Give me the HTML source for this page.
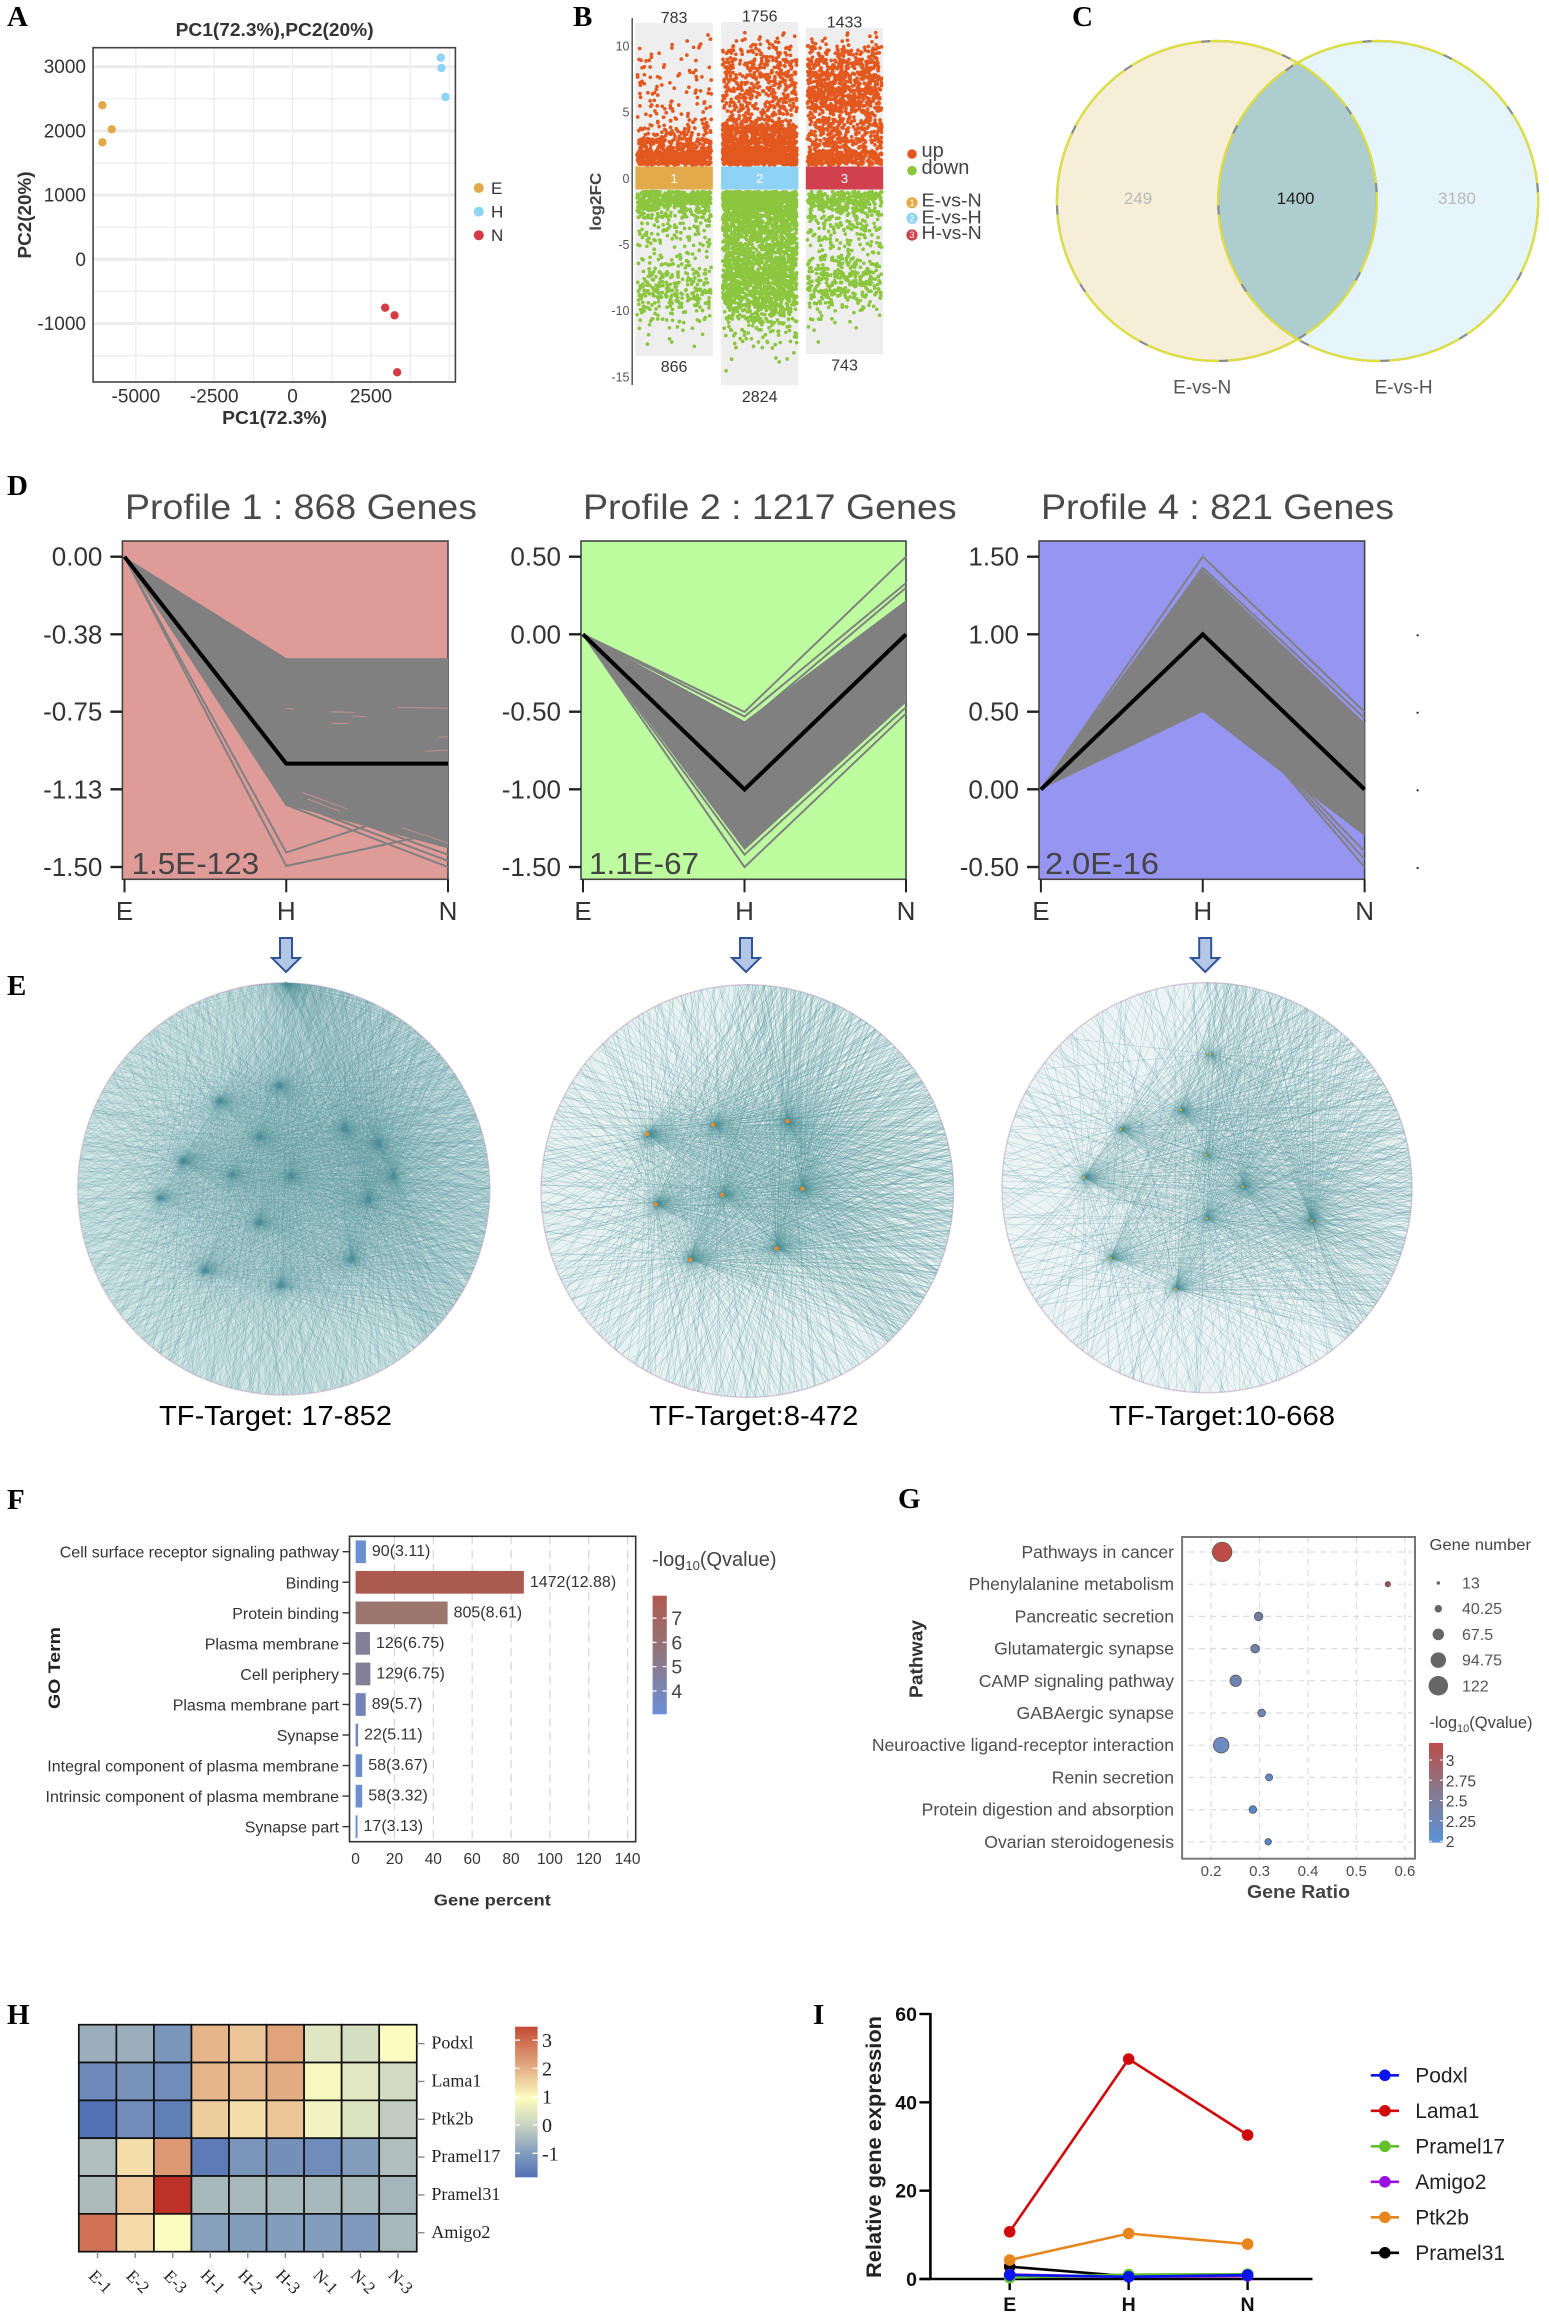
<!DOCTYPE html>
<html lang="en">
<head>
<meta charset="utf-8">
<title>Multi-panel transcriptome figure</title>
<style>
html,body{margin:0;padding:0;background:#fff}
svg{display:block}
text{font-family:"Liberation Sans",Arial,sans-serif}
.serif{font-family:"Liberation Serif","Times New Roman",serif}
.letter{font-family:"Liberation Serif","Times New Roman",serif;font-weight:bold;font-size:29px;fill:#000}
</style>
</head>
<body>
<svg id="figure" xmlns="http://www.w3.org/2000/svg" width="1549" height="2316" viewBox="0 0 1549 2316">
<defs>
<linearGradient id="fBar" x1="0" y1="0" x2="0" y2="1"><stop offset="0" stop-color="#ae5a50"/><stop offset=".45" stop-color="#937478"/><stop offset="1" stop-color="#6a90d8"/></linearGradient>
<linearGradient id="gBar" x1="0" y1="0" x2="0" y2="1"><stop offset="0" stop-color="#bd4c47"/><stop offset=".5" stop-color="#857a90"/><stop offset="1" stop-color="#5a92d8"/></linearGradient>
<linearGradient id="hBar" x1="0" y1="0" x2="0" y2="1"><stop offset="0" stop-color="#c44a36"/><stop offset=".27" stop-color="#e3ad84"/><stop offset=".47" stop-color="#fdfcc0"/><stop offset=".65" stop-color="#cbd5c2"/><stop offset=".85" stop-color="#7e99bc"/><stop offset="1" stop-color="#5272b5"/></linearGradient>
<radialGradient id="hubGlow"><stop offset="0" stop-color="#2f7f8c" stop-opacity=".5"/><stop offset=".35" stop-color="#3f8a93" stop-opacity=".16"/><stop offset="1" stop-color="#4e9196" stop-opacity="0"/></radialGradient>
</defs>
<rect width="1549" height="2316" fill="#fff"/>

<text class="letter" x="7" y="26">A</text>
<text class="letter" x="573" y="26">B</text>
<text class="letter" x="1072" y="26">C</text>
<text class="letter" x="7" y="495">D</text>
<text class="letter" x="7" y="995">E</text>
<text class="letter" x="7" y="1509">F</text>
<text class="letter" x="898" y="1508">G</text>
<text class="letter" x="7" y="2024">H</text>
<text class="letter" x="813" y="2024">I</text>

<g id="panelA">
<text x="274.6" y="36" font-size="18" font-weight="bold" fill="#333" text-anchor="middle" textLength="198" lengthAdjust="spacingAndGlyphs">PC1(72.3%),PC2(20%)</text>
<text x="274.6" y="424" font-size="18" font-weight="bold" fill="#333" text-anchor="middle" textLength="105" lengthAdjust="spacingAndGlyphs">PC1(72.3%)</text>
<text transform="translate(31 215) rotate(-90)" font-size="18" font-weight="bold" fill="#333" text-anchor="middle" textLength="87" lengthAdjust="spacingAndGlyphs">PC2(20%)</text>
</g>

<g id="panelB">
<text transform="translate(601 201.7) rotate(-90)" font-size="16" font-weight="bold" fill="#444" text-anchor="middle" textLength="58" lengthAdjust="spacingAndGlyphs">log2FC</text>
</g>

<g id="panelC">
<circle cx="1216.9" cy="201" r="160" fill="#f6eed7"/>
<circle cx="1378.2" cy="201" r="160" fill="#e5f5fb"/>
<path d="M1297.55 62.8A160 160 0 0 1 1297.55 339.2A160 160 0 0 1 1297.55 62.8Z" fill="#adcdce"/>
<g fill="none" stroke-width="2.2">
<circle cx="1216.9" cy="201" r="160" stroke="#8a8a8a"/>
<circle cx="1378.2" cy="201" r="160" stroke="#8a8a8a"/>
<circle cx="1216.9" cy="201" r="160" stroke="#dfe03c" stroke-dasharray="74 9"/>
<circle cx="1378.2" cy="201" r="160" stroke="#dfe03c" stroke-dasharray="74 9"/>
</g>
<text x="1138" y="204" font-size="17" fill="#b9b9b9" text-anchor="middle">249</text>
<text x="1295.6" y="204" font-size="17" fill="#222" text-anchor="middle">1400</text>
<text x="1456.9" y="204" font-size="17" fill="#b9b9b9" text-anchor="middle">3180</text>
<text x="1202.2" y="393.3" font-size="19" fill="#555" text-anchor="middle">E-vs-N</text>
<text x="1403.6" y="393.3" font-size="19" fill="#555" text-anchor="middle">E-vs-H</text>
</g>

<g id="panelD"></g>
<g id="panelE">
<text x="275.5" y="1425" font-size="28" fill="#000" text-anchor="middle" textLength="233" lengthAdjust="spacingAndGlyphs">TF-Target: 17-852</text>
<text x="753.8" y="1425" font-size="28" fill="#000" text-anchor="middle" textLength="209" lengthAdjust="spacingAndGlyphs">TF-Target:8-472</text>
<text x="1222" y="1425" font-size="28" fill="#000" text-anchor="middle" textLength="226" lengthAdjust="spacingAndGlyphs">TF-Target:10-668</text>
</g>

<g id="panelF">
<text transform="translate(60 1668) rotate(-90)" font-size="17" font-weight="bold" fill="#222" text-anchor="middle" textLength="82" lengthAdjust="spacingAndGlyphs">GO Term</text>
<text x="492.3" y="1905.5" font-size="16" font-weight="bold" fill="#333" text-anchor="middle" textLength="117" lengthAdjust="spacingAndGlyphs">Gene percent</text>
<text x="652" y="1566" font-size="20" fill="#444">-log<tspan font-size="13" dy="4">10</tspan><tspan dy="-4">(Qvalue)</tspan></text>
<rect x="652.6" y="1595.7" width="14.2" height="118.6" fill="url(#fBar)"/>
</g>

<g id="panelG">
<text transform="translate(922.5 1659) rotate(-90)" font-size="18" font-weight="bold" fill="#333" text-anchor="middle" textLength="78" lengthAdjust="spacingAndGlyphs">Pathway</text>
<text x="1298.5" y="1898" font-size="18" font-weight="bold" fill="#444" text-anchor="middle" textLength="103" lengthAdjust="spacingAndGlyphs">Gene Ratio</text>
<text x="1429.5" y="1550" font-size="15.5" fill="#444" textLength="101.5" lengthAdjust="spacingAndGlyphs">Gene number</text>
<text x="1429.5" y="1728" font-size="16.5" fill="#444">-log<tspan font-size="11" dy="4">10</tspan><tspan dy="-4">(Qvalue)</tspan></text>
<rect x="1429" y="1743" width="14" height="99.6" fill="url(#gBar)"/>
</g>

<g id="panelH">
<rect x="515.1" y="2026.7" width="22.5" height="150.6" fill="url(#hBar)"/>
</g>

<g id="panelI">
<text transform="translate(881 2147) rotate(-90)" font-size="21" font-weight="bold" fill="#222" text-anchor="middle" textLength="262" lengthAdjust="spacingAndGlyphs">Relative gene expression</text>
</g>
</svg>

<script>
/* ---------- Panel A data ---------- */
const pcaXTicks = [-5000, -2500, 0, 2500];
const pcaYTicks = [3000, 2000, 1000, 0, -1000];
const pcaGroups = ['E', 'H', 'N'];
const pcaPC1E = [-6067, -5770, -6067];
const pcaPC2E = [2400, 2025, 1822];
const pcaPC1H = [4727, 4750, 4876];
const pcaPC2H = [3140, 2980, 2528];
const pcaPC1N = [2953, 3252, 3336];
const pcaPC2N = [-754, -872, -1760];

/* ---------- Panel B data: dots per 1-log2FC bin, starting at |log2FC| = 1 ---------- */
const volcanoYTicks = [10, 5, 0, -5, -10, -15];
const volcanoUpCounts = [783, 1756, 1433];
const volcanoDownCounts = [866, 2824, 743];
const upBinsCol1 = [440, 170, 60, 28, 22, 18, 20, 14, 10, 5];
const upBinsCol2 = [560, 420, 280, 90, 80, 90, 100, 85, 50, 18];
const upBinsCol3 = [300, 130, 100, 100, 160, 210, 180, 140, 75, 16];
const downBinsCol1 = [340, 130, 40, 35, 22, 28, 65, 95, 55, 28, 8, 4];
const downBinsCol2 = [600, 400, 260, 200, 210, 250, 280, 240, 160, 85, 38, 16, 5, 1];
const downBinsCol3 = [220, 95, 55, 35, 32, 65, 105, 90, 36, 12, 3, 1];

/* ---------- Panel D data ---------- */
const timeLabels = ['E', 'H', 'N'];
const profile1Ticks = ['0.00', '-0.38', '-0.75', '-1.13', '-1.50'];
const profile1Mean = [0, -1, -1];
const profile1Upper = [0, -0.49, -0.49];
const profile1Lower = [0, -1.2, -1.41];
const profile1Outliers = [[0, -1.43, -1.17], [0, -1.495, -1.325], [0, -1.2, -1.5], [0, -1.18, -1.47], [0, -1.16, -1.44]];
const profile2Ticks = ['0.50', '0.00', '-0.50', '-1.00', '-1.50'];
const profile2Mean = [0, -1, 0];
const profile2Upper = [0, -0.56, 0.22];
const profile2Lower = [0, -1.39, -0.44];
const profile2Outliers = [[0, -0.5, 0.5], [0, -0.53, 0.33], [0, -0.58, 0.3], [0, -1.5, -0.51], [0, -1.42, -0.47]];
const profile4Ticks = ['1.50', '1.00', '0.50', '0.00', '-0.50'];
const profile4Mean = [0, 1, 0];
const profile4Upper = [0, 1.4, 0.43];
const profile4Lower = [0, 0.5, -0.3];
const profile4Outliers = [[0, 1.5, 0.5], [0, 1.43, 0.46], [0, 1.41, 0.42], [0, 0.72, -0.5], [0, 0.7, -0.45], [0, 0.68, -0.4]];
/* Background slivers showing through profile 1's grey band: [time start, value start, time end, value end] */
const profile1Slivers = [[1, -0.733, 1.05, -0.737], [1.28, -0.75, 1.42, -0.752], [1.41, -0.77, 1.49, -0.772], [1.28, -0.805, 1.38, -0.807], [1.69, -0.728, 2, -0.733], [1.94, -0.873, 2, -0.87], [1.86, -0.94, 2, -0.935], [1.1, -1.14, 1.38, -1.22], [1.13, -1.17, 1.33, -1.23], [1.72, -1.31, 2, -1.385]];

/* ---------- Panel E data: hub placement in unit-disc terms, and edge counts ---------- */
const net1HubU = [0.01, -0.027, -0.318, -0.124, 0.297, 0.459, -0.496, -0.258, 0.03, 0.535, -0.609, 0.41, -0.124, 0.329, -0.391, -0.019];
const net1HubV = [-1, -0.505, -0.429, -0.254, -0.294, -0.222, -0.136, -0.068, -0.06, -0.06, 0.045, 0.053, 0.167, 0.345, 0.401, 0.474];
const net1Edges = [210, 175, 175, 160, 190, 190, 190, 125, 160, 160, 130, 175, 175, 175, 175, 175];
const net2HubU = [-0.485, -0.165, 0.195, 0.267, -0.121, -0.444, 0.142, -0.276];
const net2HubV = [-0.276, -0.321, -0.339, -0.011, 0.019, 0.065, 0.279, 0.333];
const net2Edges = [150, 130, 175, 170, 130, 140, 160, 160];
const net3HubU = [0.015, -0.128, -0.421, -0.6, -0.005, 0.174, -0.002, 0.511, -0.47, -0.153];
const net3HubV = [-0.652, -0.379, -0.285, -0.05, -0.159, -0.005, 0.15, 0.161, 0.345, 0.494];
const net3Edges = [50, 120, 90, 120, 60, 130, 100, 190, 100, 110];

/* ---------- Panel F data ---------- */
const goTerms = ['Cell surface receptor signaling pathway', 'Binding', 'Protein binding', 'Plasma membrane', 'Cell periphery', 'Plasma membrane part', 'Synapse', 'Integral component of plasma membrane', 'Intrinsic component of plasma membrane', 'Synapse part'];
const goPercent = [5.3, 86.6, 47.35, 7.4, 7.6, 5.2, 1.3, 3.4, 3.4, 1];
const goGenes = [90, 1472, 805, 126, 129, 89, 22, 58, 58, 17];
const goQ = [3.11, 12.88, 8.61, 6.75, 6.75, 5.7, 5.11, 3.67, 3.32, 3.13];
const goXTicks = [0, 20, 40, 60, 80, 100, 120, 140];
const goColorTicks = [7, 6, 5, 4];

/* ---------- Panel G data ---------- */
const pathwayNames = ['Pathways in cancer', 'Phenylalanine metabolism', 'Pancreatic secretion', 'Glutamatergic synapse', 'CAMP signaling pathway', 'GABAergic synapse', 'Neuroactive ligand-receptor interaction', 'Renin secretion', 'Protein digestion and absorption', 'Ovarian steroidogenesis'];
const pathwayRatio = [0.2228, 0.5647, 0.298, 0.2908, 0.2507, 0.3043, 0.2208, 0.3197, 0.2862, 0.3178];
const pathwayGenes = [122, 25, 48, 48, 67, 41, 95, 37, 41, 34];
const pathwayQ = [3.2, 2.85, 2.45, 2.4, 2.35, 2.3, 2.25, 2.15, 2.05, 2.02];
const ratioTicks = [0.2, 0.3, 0.4, 0.5, 0.6];
const sizeLegend = [13, 40.25, 67.5, 94.75, 122];
const pathwayColorTicks = ['3', '2.75', '2.5', '2.25', '2'];

/* ---------- Panel H data ---------- */
const heatGenes = ['Podxl', 'Lama1', 'Ptk2b', 'Pramel17', 'Pramel31', 'Amigo2'];
const heatSamples = ['E-1', 'E-2', 'E-3', 'H-1', 'H-2', 'H-3', 'N-1', 'N-2', 'N-3'];
const heatPodxl = [-0.7, -0.7, -1.05, 1.9, 1.7, 2.1, 0.25, 0.1, 1];
const heatLama1 = [-1.25, -1.1, -1.2, 1.9, 1.85, 2, 0.8, 0.3, 0.05];
const heatPtk2b = [-1.6, -1.2, -1.4, 1.6, 1.4, 1.7, 0.6, 0.2, -0.2];
const heatPramel17 = [-0.45, 1.4, 2.2, -1.45, -1.05, -1.15, -1.2, -0.95, -0.45];
const heatPramel31 = [-0.5, 1.65, 3.3, -0.55, -0.55, -0.55, -0.55, -0.55, -0.6];
const heatAmigo2 = [2.6, 1.45, 1, -0.9, -0.95, -0.95, -0.95, -1, -0.55];
const heatColorTicks = [3, 2, 1, 0, -1];

/* ---------- Panel I data ---------- */
const qpcrGroups = ['E', 'H', 'N'];
const qpcrTicks = [60, 40, 20, 0];
const qpcrLegend = ['Podxl', 'Lama1', 'Pramel17', 'Amigo2', 'Ptk2b', 'Pramel31'];
const qpcrPodxl = [0.9, 0.5, 0.9];
const qpcrLama1 = [10.7, 49.8, 32.6];
const qpcrPramel17 = [0.3, 1, 1.1];
const qpcrAmigo2 = [1, 0.5, 0.7];
const qpcrPtk2b = [4.3, 10.3, 7.9];
const qpcrPramel31 = [2.8, 0.6, 1];

/* ---------- helpers ---------- */
const NS = 'http://www.w3.org/2000/svg';
function mk(tag, parent, attrs) {
  const e = document.createElementNS(NS, tag);
  for (const k in attrs) e.setAttribute(k, attrs[k]);
  parent.appendChild(e);
  return e;
}
function tx(parent, x, y, str, size, attrs) {
  const e = mk('text', parent, Object.assign({x: x, y: y, 'font-size': size}, attrs || {}));
  e.textContent = str;
  return e;
}
function hexRgb(h) { return [parseInt(h.substr(1, 2), 16), parseInt(h.substr(3, 2), 16), parseInt(h.substr(5, 2), 16)]; }
function ramp(vals, cols, v) {
  if (v <= vals[0]) return cols[0];
  for (let i = 1; i < vals.length; i++) {
    if (v <= vals[i]) {
      const t = (v - vals[i - 1]) / (vals[i] - vals[i - 1]);
      const a = hexRgb(cols[i - 1]), b = hexRgb(cols[i]);
      return 'rgb(' + a.map((c, j) => Math.round(c + (b[j] - c) * t)).join(',') + ')';
    }
  }
  return cols[cols.length - 1];
}
/* Deterministic layout jitter: only spreads marks inside a bin or fan, never sets a data value. */
function jitter(a, b) {
  const s = Math.sin(a * 12.9898 + b * 78.233) * 43758.5453;
  return s - Math.floor(s);
}

/* ---------- Panel A ---------- */
(function () {
  const g = document.getElementById('panelA');
  const x = v => 292.6 + v * 78.37 / 2500;
  const y = v => 259.3 - v * 64.2 / 1000;
  const L = 93.1, R = 455.4, T = 47.7, B = 382;
  for (let v = -5000; v <= 5000; v += 1250) {
    const l = mk('line', g, {x1: x(v), x2: x(v), y1: T, y2: B, stroke: '#ececec', 'stroke-width': 1.2});
    
    
  }
  for (let v = -1500; v <= 3000; v += 500) {
    const major = v % 1000 === 0;
    const l = mk('line', g, {x1: L, x2: R, y1: y(v), y2: y(v), stroke: '#ececec', 'stroke-width': major ? 3 : 1.2});
    
    
  }
  const box = mk('rect', g, {x: L, y: T, width: R - L, height: B - T, fill: 'none', stroke: '#444', 'stroke-width': 1.6});
  
  
  pcaXTicks.forEach(v => {
    const t = tx(g, x(v), 402.7, String(v), 19, {'text-anchor': 'middle', fill: '#333'});
    
    
  });
  pcaYTicks.forEach(v => {
    const t = tx(g, 86, y(v) + 6.5, String(v), 19, {'text-anchor': 'end', fill: '#333'});
    
    
  });
  const colors = ['#e2a948', '#8ed3f5', '#d63a45'];
  const xs = [pcaPC1E, pcaPC1H, pcaPC1N], ys = [pcaPC2E, pcaPC2H, pcaPC2N];
  xs.forEach((arr, k) => arr.forEach((v, i) => {
    const c = mk('circle', g, {cx: x(v), cy: y(ys[k][i]), r: 4.2, fill: colors[k]});
    
    
  }));
  pcaGroups.forEach((name, k) => {
    const ly = 188 + k * 23.6;
    const c = mk('circle', g, {cx: 478.8, cy: ly, r: 5, fill: colors[k]});
    
    
    const t = tx(g, 491, ly + 6, name, 17, {fill: '#333'});
    
    
  });
})();

/* ---------- Panel B ---------- */
(function () {
  const g = document.getElementById('panelB');
  const y = v => 178.3 - v * 13.24;
  const colL = [635.4, 721, 805.8], colW = 77.4;
  const colTop = [23, 22, 28], colBottom = [356, 385, 354];
  const bandColors = ['#e2aa4b', '#8ed3f5', '#d0404d'];
  const topLabelY = [23, 21.7, 27.7], bottomLabelY = [372, 402, 370.7];
  const ups = [upBinsCol1, upBinsCol2, upBinsCol3];
  const downs = [downBinsCol1, downBinsCol2, downBinsCol3];
  const axis = mk('line', g, {x1: 632.2, x2: 632.2, y1: 18, y2: 385, stroke: '#555', 'stroke-width': 1.5});
  
  
  volcanoYTicks.forEach(v => {
    const t = tx(g, 629.5, y(v) + 4.5, String(v), 12.5, {'text-anchor': 'end', fill: '#555'});
    
    
  });
  function dots(bins, sign, col) {
    let d = '';
    bins.forEach((n, b) => {
      for (let i = 0; i < n; i++) {
        const fx = jitter(i + 0.13 * col, b + 3.7 * sign);
        const fy = jitter(i + 7.31 + col, b + 11.9 * sign);
        const v = sign * (1 + b + fy);
        d += 'M' + (colL[col] + 1.5 + fx * (colW - 3)).toFixed(1) + ' ' + y(v).toFixed(1) + 'h0';
      }
    });
    return d;
  }
  colL.forEach((l, k) => {
    const bg = mk('rect', g, {x: l, y: colTop[k], width: colW, height: colBottom[k] - colTop[k], fill: '#eeeeee'});
    
    
    const up = mk('path', g, {d: dots(ups[k], 1, k), stroke: '#e2581f', 'stroke-width': 3.7, 'stroke-linecap': 'round', fill: 'none'});
    
    
    const down = mk('path', g, {d: dots(downs[k], -1, k), stroke: '#8cc63f', 'stroke-width': 3.7, 'stroke-linecap': 'round', fill: 'none'});
    
    
    const band = mk('rect', g, {x: l, y: 166.5, width: colW, height: 23, fill: bandColors[k]});
    
    
    const n = tx(g, l + colW / 2, 183, String(k + 1), 13, {'text-anchor': 'middle', fill: '#fff'});
    
    
    const tl = tx(g, l + colW / 2, topLabelY[k], String(volcanoUpCounts[k]), 16, {'text-anchor': 'middle', fill: '#333'});
    
    
    const bl = tx(g, l + colW / 2, bottomLabelY[k], String(volcanoDownCounts[k]), 16, {'text-anchor': 'middle', fill: '#333'});
    
    
  });
  const legendNames = ['up', 'down'], legendColors = ['#e2581f', '#8cc63f'], legendY = [154, 170.7], legendBase = [157, 174];
  legendNames.forEach((s, i) => {
    const c = mk('circle', g, {cx: 912, cy: legendY[i], r: 4.8, fill: legendColors[i]});
    
    
    const t = tx(g, 921.5, legendBase[i], s, 20, {fill: '#444'});
    
    
  });
  const compareNames = ['E-vs-N', 'E-vs-H', 'H-vs-N'], compareY = [202.7, 218.3, 235], compareBase = [206.7, 223.3, 239];
  compareNames.forEach((s, i) => {
    const c = mk('circle', g, {cx: 912, cy: compareY[i], r: 5.6, fill: bandColors[i]});
    
    
    const num = tx(g, 912, compareY[i] + 3.2, String(i + 1), 9, {'text-anchor': 'middle', fill: '#fff'});
    
    
    const t = tx(g, 921.5, compareBase[i], s, 18, {fill: '#444', textLength: 60.3, lengthAdjust: 'spacingAndGlyphs'});
    
    
  });
})();

/* ---------- Panel D ---------- */
(function () {
  const g = document.getElementById('panelD');
  const T = 541, B = 879.3, tickY = [556.7, 634.3, 711.7, 789.3, 867];
  function profile(o) {
    const x = i => o.xE + i * (o.xN - o.xE) / 2;
    const y = v => tickY[0] + (o.top - v) * o.pxPerUnit;
    const bg = mk('rect', g, {x: o.L, y: T, width: o.xN - o.L, height: B - T, fill: o.bg, stroke: '#444', 'stroke-width': 1.6});
    
    
    const pts = o.upper.map((v, i) => x(i) + ',' + y(v)).concat(o.lower.map((v, i) => x(i) + ',' + y(v)).reverse()).join(' ');
    const band = mk('polygon', g, {points: pts, fill: '#808080'});
    
    
    o.outliers.forEach(s => {
      const l = mk('polyline', g, {points: s.map((v, i) => x(i) + ',' + y(v)).join(' '), fill: 'none', stroke: '#808080', 'stroke-width': 2});
      
      
    });
    (o.slivers || []).forEach(s => {
      const l = mk('line', g, {x1: x(s[0]), y1: y(s[1]), x2: x(s[2]), y2: y(s[3]), stroke: o.bg, 'stroke-width': 0.9, 'stroke-opacity': 0.75});
      
      
    });
    const mean = mk('polyline', g, {points: o.mean.map((v, i) => x(i) + ',' + y(v)).join(' '), fill: 'none', stroke: '#000', 'stroke-width': 4});
    
    
    o.ticks.forEach((s, i) => {
      const tm = mk('line', g, {x1: o.L - 12, x2: o.L, y1: tickY[i], y2: tickY[i], stroke: '#222', 'stroke-width': 2.4});
      
      
      const t = tx(g, o.L - 20, tickY[i] + 9, s, 26, {'text-anchor': 'end', fill: '#333'});
      
      
    });
    timeLabels.forEach((s, i) => {
      const tm = mk('line', g, {x1: x(i), x2: x(i), y1: B, y2: B + 13, stroke: '#222', 'stroke-width': 2});
      
      
      const t = tx(g, x(i), 920, s, 26, {'text-anchor': 'middle', fill: '#333'});
      
      
    });
    const title = tx(g, o.titleX, 519, o.title, 35, {fill: '#4a4a4a', textLength: o.titleW, lengthAdjust: 'spacingAndGlyphs'});
    
    
    const p = tx(g, o.pX, 874, o.p, 31, {fill: '#444', textLength: o.pW, lengthAdjust: 'spacingAndGlyphs'});
    
    
    const a = o.arrowX;
    const arrow = mk('path', g, {d: 'M' + (a - 6) + ' 938H' + (a + 6) + 'V958H' + (a + 14) + 'L' + a + ' 972L' + (a - 14) + ' 958H' + (a - 6) + 'Z', fill: '#b4c7e7', stroke: '#2f5597', 'stroke-width': 2});
    
    
  }
  profile({L: 122.4, xE: 124.5, xN: 448, top: 0, pxPerUnit: 206.9, bg: '#de9b98', upper: profile1Upper, lower: profile1Lower, outliers: profile1Outliers, slivers: profile1Slivers, mean: profile1Mean, ticks: profile1Ticks, title: 'Profile 1 : 868 Genes', titleX: 125, titleW: 352, p: '1.5E-123', pX: 131.6, pW: 127.5, arrowX: 286});
  profile({L: 581, xE: 583, xN: 906, top: 0.5, pxPerUnit: 155.2, bg: '#bdfd9f', upper: profile2Upper, lower: profile2Lower, outliers: profile2Outliers, mean: profile2Mean, ticks: profile2Ticks, title: 'Profile 2 : 1217 Genes', titleX: 583, titleW: 373.6, p: '1.1E-67', pX: 589, pW: 110, arrowX: 746});
  profile({L: 1039, xE: 1040.9, xN: 1364.6, top: 1.5, pxPerUnit: 155.2, bg: '#9795f2', upper: profile4Upper, lower: profile4Lower, outliers: profile4Outliers, mean: profile4Mean, ticks: profile4Ticks, title: 'Profile 4 : 821 Genes', titleX: 1041, titleW: 353, p: '2.0E-16', pX: 1045, pW: 114, arrowX: 1205.2});
  tickY.slice(1).forEach(ty => {
    const c = mk('circle', g, {cx: 1417.6, cy: ty + 1, r: 1.1, fill: '#222'});
    
    
  });
})();

/* ---------- Panel E ---------- */
(function () {
  const g = document.getElementById('panelE');
  function network(cx, cy, R, hubU, hubV, edges, discFill, denseShare, hubColor, hubR, opacity, strokeW) {
    const disc = mk('circle', g, {cx: cx, cy: cy, r: R, fill: discFill, stroke: '#d8c8da', 'stroke-width': 1.4});
    
    
    hubU.forEach((u, i) => {
      const hx = cx + u * R, hy = cy + hubV[i] * R;
      const dense = Math.round(edges[i] * denseShare), sparse = edges[i] - dense;
      let d = '';
      for (let j = 0; j < dense; j++) {
        const a = ((j + jitter(j, i)) / dense) * 2.4;
        d += 'M' + hx.toFixed(1) + ' ' + hy.toFixed(1) + 'L' + (cx + R * Math.sin(a)).toFixed(1) + ' ' + (cy - R * Math.cos(a)).toFixed(1);
      }
      for (let j = 0; j < sparse; j++) {
        const a = ((j + jitter(j + 5.5, i + 9)) / sparse) * 6.2832;
        d += 'M' + hx.toFixed(1) + ' ' + hy.toFixed(1) + 'L' + (cx + R * Math.sin(a)).toFixed(1) + ' ' + (cy - R * Math.cos(a)).toFixed(1);
      }
      const fan = mk('path', g, {d: d, fill: 'none', stroke: '#4e9196', 'stroke-width': strokeW, 'stroke-opacity': opacity});
      
      
    });
    hubU.forEach((u, i) => {
      if (u * u + hubV[i] * hubV[i] < 0.9) {
        const glow = mk('circle', g, {cx: cx + u * R, cy: cy + hubV[i] * R, r: 15, fill: 'url(#hubGlow)'});
        
        
      }
      const h = mk('circle', g, {cx: cx + u * R, cy: cy + hubV[i] * R, r: hubR, fill: hubColor});
      
      
    });
  }
  network(283.8, 1189, 206, net1HubU, net1HubV, net1Edges, '#d4e8e8', 0.3, '#5f8fa0', 1.2, 0.3, 0.42);
  network(747.3, 1191, 206.3, net2HubU, net2HubV, net2Edges, '#e8f2f2', 0.4, '#e88a2e', 2.2, 0.4, 0.5);
  network(1207, 1187.7, 205, net3HubU, net3HubV, net3Edges, '#ecf4f5', 0.5, '#d7a83a', 1.3, 0.36, 0.5);
})();

/* ---------- Panel F ---------- */
(function () {
  const g = document.getElementById('panelF');
  const x = v => 355.6 + v * 1.943;
  const y = i => 1551.7 + i * 30.55;
  const L = 349.5, R = 635.7, T = 1536.3, B = 1841.7;
  const qVals = [3.1, 5.7, 6.75, 8.61, 12.88];
  const qCols = ['#6a90d3', '#7283b9', '#847f98', '#9a766f', '#ab5a50'];
  goXTicks.forEach(v => {
    if (v > 0) {
      const l = mk('line', g, {x1: x(v), x2: x(v), y1: T, y2: B, stroke: '#d4d4d4', 'stroke-width': 1.2, 'stroke-dasharray': '8 6'});
      
      
    }
    const t = tx(g, x(v), 1864, String(v), 15.5, {'text-anchor': 'middle', fill: '#333'});
    
    
  });
  const frame = mk('rect', g, {x: L, y: T, width: R - L, height: B - T, fill: 'none', stroke: '#333', 'stroke-width': 1.6});
  
  
  goTerms.forEach((s, i) => {
    const bar = mk('rect', g, {x: x(0), y: y(i) - 11.3, width: x(goPercent[i]) - x(0), height: 22.7, fill: ramp(qVals, qCols, goQ[i])});
    
    
    const tick = mk('line', g, {x1: 342.5, x2: L, y1: y(i), y2: y(i), stroke: '#333', 'stroke-width': 1.4});
    
    
    const t = tx(g, 339, y(i) + 6, s, 16, {'text-anchor': 'end', fill: '#333'});
    
    
    const v = tx(g, x(goPercent[i]) + 6, y(i) + 4.5, goGenes[i] + '(' + goQ[i] + ')', 16, {fill: '#333'});
    
    
  });
  const cbar = v => 1666.7 + (5 - v) * 24.3;
  goColorTicks.forEach(v => {
    const m = mk('line', g, {x1: 652.6, x2: 666.8, y1: cbar(v), y2: cbar(v), stroke: '#fff', 'stroke-width': 1.2, 'stroke-dasharray': '4 6'});
    
    
    const t = tx(g, 671.4, cbar(v) + 7, String(v), 19.5, {fill: '#444'});
    
    
  });
})();

/* ---------- Panel G ---------- */
(function () {
  const g = document.getElementById('panelG');
  const x = v => 1211.1 + (v - 0.2) * 484.5;
  const y = i => 1552 + i * 32.2;
  const r = n => 1.75 + (n - 13) * 8 / 109;
  const L = 1182.1, R = 1415, T = 1537, B = 1858.7;
  const qVals = [2, 2.25, 2.5, 2.75, 3];
  const qCols = ['#4d88cc', '#6d8bc0', '#71789a', '#8f5552', '#bd4c47'];
  ratioTicks.forEach(v => {
    const l = mk('line', g, {x1: x(v), x2: x(v), y1: T, y2: B, stroke: '#dcdcdc', 'stroke-width': 1.2, 'stroke-dasharray': '6 5'});
    
    
    const t = tx(g, x(v), 1876, v.toFixed(1), 15, {'text-anchor': 'middle', fill: '#4d4d4d'});
    
    
  });
  pathwayNames.forEach((s, i) => {
    const l = mk('line', g, {x1: L + 6, x2: R - 3, y1: y(i), y2: y(i), stroke: '#dcdcdc', 'stroke-width': 1.2, 'stroke-dasharray': '6 5'});
    
    
    const t = tx(g, 1174, y(i) + 6, s, 17.6, {'text-anchor': 'end', fill: '#4d4d4d'});
    
    
    const c = mk('circle', g, {cx: x(pathwayRatio[i]), cy: y(i), r: r(pathwayGenes[i]), fill: ramp(qVals, qCols, pathwayQ[i]), stroke: '#555', 'stroke-width': 0.8});
    
    
  });
  const frame = mk('rect', g, {x: L, y: T, width: R - L, height: B - T, fill: 'none', stroke: '#777', 'stroke-width': 2});
  
  
  sizeLegend.forEach((n, i) => {
    const ly = 1583 + i * 25.7;
    const c = mk('circle', g, {cx: 1438.3, cy: ly, r: r(n), fill: '#666'});
    
    
    const t = tx(g, 1462, ly + 5.5, String(n), 16, {fill: '#555'});
    
    
  });
  pathwayColorTicks.forEach((s, i) => {
    const cy = 1760 + i * 20.3;
    const m = mk('line', g, {x1: 1429, x2: 1443, y1: cy, y2: cy, stroke: '#fff', 'stroke-width': 1, 'stroke-dasharray': '3 8'});
    
    
    const t = tx(g, 1445.8, cy + 6, s, 15.5, {fill: '#444'});
    
    
  });
})();

/* ---------- Panel H ---------- */
(function () {
  const g = document.getElementById('panelH');
  const rows = [heatPodxl, heatLama1, heatPtk2b, heatPramel17, heatPramel31, heatAmigo2];
  const vVals = [-1.6, -1, -0.5, 0, 0.5, 1, 1.5, 2, 3, 3.3];
  const vCols = ['#5272b5', '#7e99bc', '#adbcbb', '#d0d9c2', '#eef2c0', '#fdfcc0', '#f2d6a5', '#e3ad84', '#c44a36', '#bd3228'];
  const L = 78.8, T = 2024.7, cw = 37.55, ch = 37.83;
  rows.forEach((vals, r) => vals.forEach((v, c) => {
    const cell = mk('rect', g, {x: L + c * cw, y: T + r * ch, width: cw, height: ch, fill: ramp(vVals, vCols, v), stroke: '#111', 'stroke-width': 1.7});
    
    
  }));
  heatGenes.forEach((s, r) => {
    const cy = T + (r + 0.5) * ch;
    const m = mk('line', g, {x1: L + 9 * cw, x2: 424.5, y1: cy, y2: cy, stroke: '#888', 'stroke-width': 1.4});
    
    
    const t = tx(g, 431.4, cy + 5, s, 18, {'class': 'serif', fill: '#222'});
    
    
  });
  heatSamples.forEach((s, c) => {
    const cx = L + (c + 0.5) * cw;
    const m = mk('line', g, {x1: cx, x2: cx, y1: T + 6 * ch, y2: 2258, stroke: '#888', 'stroke-width': 1.4});
    
    
    const t = tx(g, cx + 2.4, 2287, s, 17, {'class': 'serif', fill: '#222', 'text-anchor': 'middle', transform: 'rotate(45 ' + (cx + 2.4) + ' 2282)'});
    
    
  });
  const cbar = v => 2125 - v * 28.3;
  heatColorTicks.forEach(v => {
    const m = mk('line', g, {x1: 515.1, x2: 537.6, y1: cbar(v), y2: cbar(v), stroke: '#fff', 'stroke-width': 1.3, 'stroke-dasharray': '5 12.5'});
    
    
    const t = tx(g, 542, cbar(v) + 7, String(v), 20, {'class': 'serif', fill: '#222'});
    
    
  });
})();

/* ---------- Panel I ---------- */
(function () {
  const g = document.getElementById('panelI');
  const y = v => 2279 - v * 265 / 60;
  const x = i => 1009.7 + i * 118.95;
  const colorByGene = {Podxl: '#0a14ec', Lama1: '#d00a0a', Pramel17: '#63bf2a', Amigo2: '#9b10e0', Ptk2b: '#e8861e', Pramel31: '#000000'};
  const seriesByGene = {Podxl: qpcrPodxl, Lama1: qpcrLama1, Pramel17: qpcrPramel17, Amigo2: qpcrAmigo2, Ptk2b: qpcrPtk2b, Pramel31: qpcrPramel31};
  const drawOrder = ['Pramel31', 'Ptk2b', 'Lama1', 'Amigo2', 'Pramel17', 'Podxl'];
  const yAxis = mk('line', g, {x1: 930.4, x2: 930.4, y1: 2013, y2: 2280, stroke: '#000', 'stroke-width': 2.6});
  
  
  const xAxis = mk('line', g, {x1: 919.4, x2: 1312.5, y1: 2279, y2: 2279, stroke: '#000', 'stroke-width': 2.6});
  
  
  qpcrTicks.forEach(v => {
    const m = mk('line', g, {x1: 919.4, x2: 930.4, y1: y(v), y2: y(v), stroke: '#000', 'stroke-width': 2.4});
    
    
    const t = tx(g, 917, y(v) + 7, String(v), 19.5, {'text-anchor': 'end', 'font-weight': 'bold', fill: '#111'});
    
    
  });
  qpcrGroups.forEach((s, i) => {
    const m = mk('line', g, {x1: x(i), x2: x(i), y1: 2279, y2: 2290, stroke: '#000', 'stroke-width': 2.4});
    
    
    const t = tx(g, x(i), 2311, s, 19.5, {'text-anchor': 'middle', 'font-weight': 'bold', fill: '#111'});
    
    
  });
  drawOrder.forEach(name => {
    const vals = seriesByGene[name], col = colorByGene[name];
    const l = mk('polyline', g, {points: vals.map((v, i) => x(i) + ',' + y(v)).join(' '), fill: 'none', stroke: col, 'stroke-width': 2.6});
    
    
    vals.forEach((v, i) => {
      const c = mk('circle', g, {cx: x(i), cy: y(v), r: 5.8, fill: col});
      
      
    });
  });
  qpcrLegend.forEach((name, i) => {
    const ly = 2075.3 + i * 35.5;
    const l = mk('line', g, {x1: 1370.8, x2: 1399, y1: ly, y2: ly, stroke: colorByGene[name], 'stroke-width': 2.6});
    
    
    const c = mk('circle', g, {cx: 1384.9, cy: ly, r: 5.8, fill: colorByGene[name]});
    
    
    const t = tx(g, 1415.2, ly + 7, name, 21, {fill: '#222'});
    
    
  });
})();
</script>
</body>
</html>
